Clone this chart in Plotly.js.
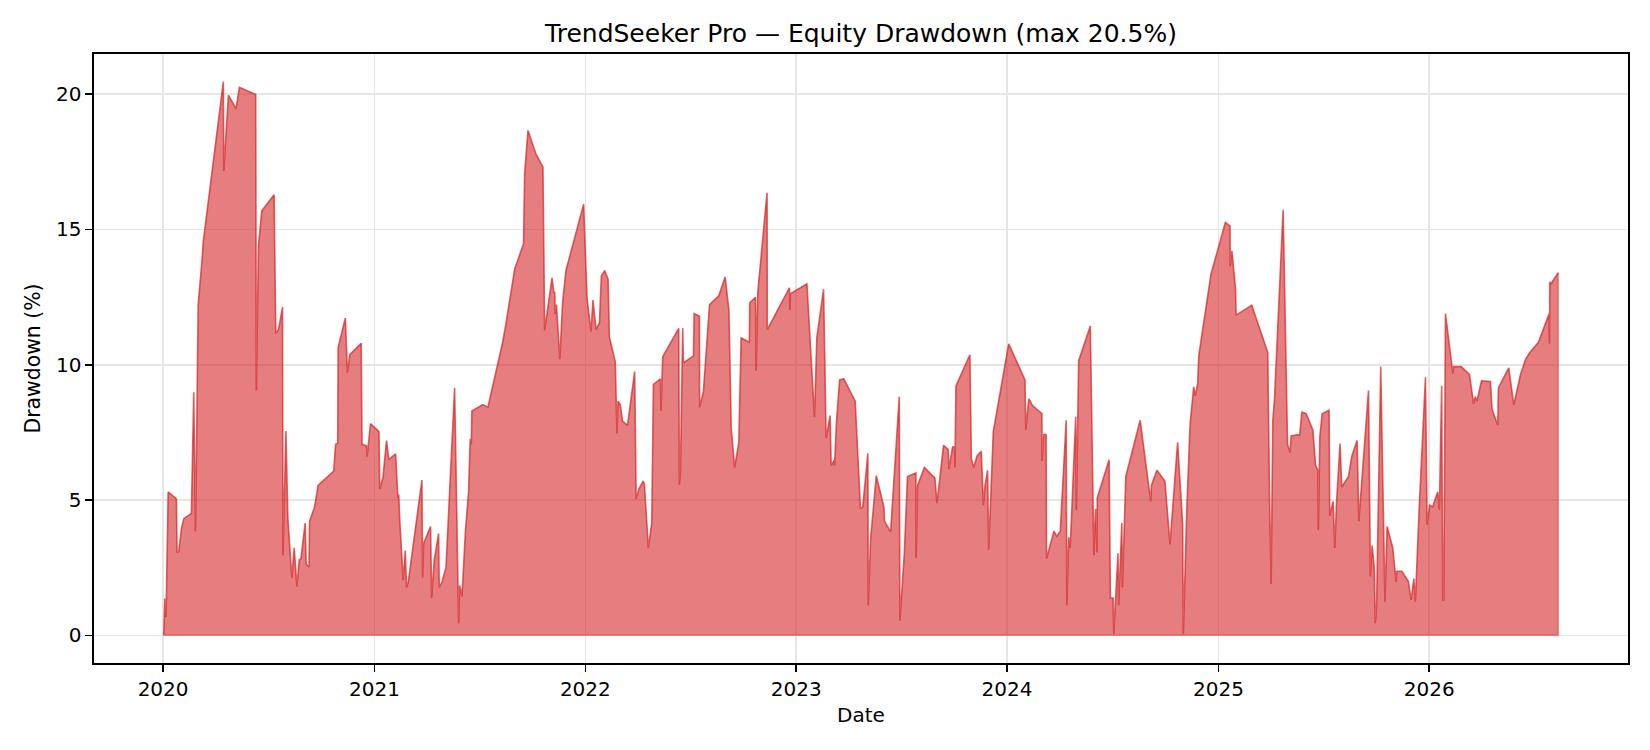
<!DOCTYPE html>
<html><head><meta charset="utf-8">
<script src="https://cdn.plot.ly/plotly-3.0.1.min.js"></script>
<style>html,body{margin:0;padding:0;background:#fff}#chart{width:1650px;height:750px}</style>
</head><body><div id="chart"></div>
<script>
const decimalYear = [
2020.003,2020.008,2020.014,2020.024,2020.063,2020.066,2020.074,2020.087,2020.098,2020.134,2020.145,2020.153,2020.157,2020.166,2020.185,2020.190,2020.285,2020.287,2020.309,2020.345,2020.361,2020.438,2020.441,2020.451,2020.467,2020.525,2020.533,2020.546,2020.565,2020.567,2020.581,2020.590,2020.609,2020.620,2020.633,2020.644,2020.652,2020.672,2020.677,2020.690,2020.693,2020.717,2020.733,2020.807,2020.816,2020.826,2020.828,2020.862,2020.872,2020.883,2020.937,2020.941,2020.962,2020.965,2020.981,
2021.021,2021.025,2021.040,2021.057,2021.068,2021.100,2021.111,2021.115,2021.120,2021.136,2021.146,2021.152,2021.160,2021.225,2021.228,2021.233,2021.266,2021.271,2021.283,2021.304,2021.307,2021.320,2021.339,2021.380,2021.399,2021.404,2021.415,2021.431,2021.446,2021.454,2021.459,2021.462,2021.513,2021.538,2021.581,2021.608,2021.623,2021.665,2021.707,2021.712,2021.728,2021.766,2021.799,2021.807,2021.842,2021.850,2021.855,2021.857,2021.863,2021.879,2021.892,2021.908,2021.992,
2022.008,2022.019,2022.027,2022.036,2022.051,2022.067,2022.076,2022.092,2022.108,2022.114,2022.142,2022.150,2022.155,2022.166,2022.176,2022.200,2022.234,2022.241,2022.254,2022.274,2022.280,2022.299,2022.315,2022.323,2022.356,2022.359,2022.367,2022.443,2022.446,2022.451,2022.462,2022.465,2022.513,2022.516,2022.541,2022.542,2022.560,2022.589,2022.633,2022.663,2022.681,2022.692,2022.708,2022.728,2022.739,2022.778,2022.780,2022.807,2022.810,2022.818,2022.862,2022.863,2022.886,2022.894,2022.968,2022.970,2022.973,
2023.051,2023.087,2023.098,2023.130,2023.142,2023.161,2023.166,2023.180,2023.182,2023.191,2023.206,2023.226,2023.280,2023.305,2023.316,2023.340,2023.342,2023.353,2023.380,2023.416,2023.419,2023.448,2023.489,2023.492,2023.513,2023.528,2023.568,2023.569,2023.576,2023.608,2023.658,2023.668,2023.699,2023.721,2023.725,2023.742,2023.751,2023.753,2023.758,2023.824,2023.831,2023.842,2023.858,2023.878,2023.888,2023.896,2023.908,2023.913,2023.935,
2024.008,2024.085,2024.089,2024.103,2024.122,2024.165,2024.166,2024.174,2024.185,2024.187,2024.222,2024.236,2024.252,2024.280,2024.283,2024.292,2024.299,2024.325,2024.328,2024.339,2024.394,2024.411,2024.419,2024.426,2024.427,2024.483,2024.489,2024.502,2024.505,2024.525,2024.528,2024.543,2024.546,2024.562,2024.630,2024.672,2024.680,2024.683,2024.709,2024.747,2024.771,2024.807,2024.831,2024.834,2024.850,2024.866,2024.883,2024.891,2024.902,2024.907,2024.965,
2025.033,2025.055,2025.056,2025.064,2025.081,2025.084,2025.158,2025.234,2025.242,2025.250,2025.258,2025.266,2025.307,2025.328,2025.340,2025.345,2025.377,2025.385,2025.396,2025.416,2025.448,2025.461,2025.472,2025.474,2025.481,2025.492,2025.525,2025.528,2025.544,2025.552,2025.560,2025.577,2025.585,2025.617,2025.633,2025.658,2025.666,2025.712,2025.721,2025.729,2025.739,2025.744,2025.750,2025.770,2025.790,2025.800,2025.827,2025.843,2025.846,2025.870,2025.901,2025.914,2025.927,2025.934,2025.953,2025.982,2025.990,
2026.002,2026.016,2026.040,2026.048,2026.059,2026.064,2026.069,2026.077,2026.112,2026.116,2026.151,2026.191,2026.210,2026.218,2026.226,2026.248,2026.290,2026.298,2026.325,2026.328,2026.377,2026.401,2026.433,2026.457,2026.476,2026.518,2026.568,2026.570,2026.572,2026.578,2026.612
];
const drawdownPct = [
0,1.36,0.68,5.3,5.04,3.06,3.1,3.96,4.31,4.51,8.98,3.85,6.07,12.22,13.94,14.54,20.46,17.16,19.96,19.46,20.25,19.99,9.05,14.4,15.69,16.28,11.16,11.3,12.13,2.96,7.55,4.35,2.13,3.23,1.81,2.79,2.83,4.15,2.63,2.53,4.22,4.75,5.54,6.07,7.06,7.1,10.63,11.73,9.71,10.37,10.79,7.06,7.0,6.6,7.82,
7.53,5.41,5.83,7.2,6.49,6.71,5.08,5.2,4.22,2.04,3.13,1.77,1.97,5.74,2.13,3.4,4.02,1.38,2.76,3.76,1.77,1.97,2.5,9.14,0.45,1.84,1.44,3.82,5.28,7.26,7.06,8.29,8.52,8.43,9.91,10.83,11.49,13.54,14.47,17.05,18.66,17.78,17.31,11.27,13.21,12.69,12.66,11.87,12.22,10.2,12.29,13.48,15.93,
12.49,11.73,11.23,12.39,11.3,11.56,13.28,13.48,13.15,11.03,10.11,7.46,8.65,8.52,7.92,7.76,9.75,5.04,5.41,5.7,5.6,3.23,4.15,9.27,9.48,8.29,10.3,11.34,5.57,6.07,11.36,10.07,10.33,11.89,11.79,8.43,9.0,12.22,12.55,13.24,12.02,7.66,6.2,7.13,10.99,10.83,12.29,12.49,9.78,12.69,16.36,11.3,11.63,11.73,12.84,12.02,12.62,
12.99,8.06,10.99,12.79,7.29,8.12,6.27,6.47,6.27,7.86,9.44,9.48,8.65,4.68,4.75,6.73,1.11,3.56,5.9,4.75,4.22,3.82,8.82,0.54,3.03,5.87,6.0,2.87,5.54,6.2,5.81,4.88,7.02,6.87,6.14,6.97,6.95,6.2,9.22,10.37,6.53,6.2,6.63,6.8,4.81,5.54,6.1,3.16,7.53,
10.77,9.44,7.59,8.74,8.48,8.19,6.44,7.42,7.42,2.83,3.85,3.66,3.85,7.95,1.11,3.62,3.23,8.08,4.62,10.15,11.43,2.96,4.68,3.06,5.08,6.49,1.38,1.38,0.05,3.03,1.11,4.15,1.77,5.87,7.95,5.41,4.95,5.54,6.1,5.7,3.36,7.13,4.09,0.05,4.55,7.79,9.18,8.85,9.31,10.33,13.35,
15.26,15.13,13.64,14.21,12.82,11.83,12.2,10.46,5.41,1.9,7.95,8.72,15.73,7.06,6.76,7.37,7.42,7.37,8.25,8.19,7.59,6.27,6.1,3.89,7.33,8.19,8.32,4.42,4.95,3.23,4.88,7.09,5.48,5.87,6.63,7.2,4.22,9.05,2.17,3.32,2.53,0.45,1.04,9.93,1.24,4.02,3.23,1.97,2.37,2.37,2.0,1.31,2.1,1.24,4.81,9.54,4.09,
4.81,4.75,5.3,4.64,9.22,1.31,1.31,11.89,9.67,9.93,9.93,9.64,8.56,8.82,8.65,9.4,9.38,8.35,7.76,9.14,9.88,8.52,9.64,10.2,10.44,10.83,11.87,10.78,13.06,13.0,13.4
];
const xTickYears = ['2020','2021','2022','2023','2024','2025','2026'];
const yTickValues = [0,5,10,15,20];
const chartTitle = 'TrendSeeker Pro — Equity Drawdown (max 20.5%)';

function toMs(dy){ const y=Math.floor(dy); const s=Date.UTC(y,0,1), e=Date.UTC(y+1,0,1); return s+(dy-y)*(e-s); }
function iso(ms){ return new Date(ms).toISOString(); }
const xDates = decimalYear.map(d=>iso(toMs(d)));
const xMin = toMs(decimalYear[0]), xMax = toMs(decimalYear[decimalYear.length-1]);
const xPad = (xMax-xMin)*0.05;
const yMax = Math.max(...drawdownPct), yMin = Math.min(0, ...drawdownPct);
const yPad = (yMax-yMin)*0.05;
const lastX = xDates[xDates.length-1], firstX = xDates[0], lastY = drawdownPct[drawdownPct.length-1];

const font = 'DejaVu Sans, sans-serif';
const traces = [
 {x:xDates, y:drawdownPct, type:'scatter', mode:'lines', fill:'tozeroy',
  fillcolor:'rgba(214,39,40,0.6)', line:{color:'rgba(214,39,40,0.72)', width:1.6}, hoverinfo:'skip'},
 {x:[lastX,lastX,firstX], y:[lastY,0,0], type:'scatter', mode:'lines',
  line:{color:'rgba(214,39,40,0.45)', width:1.4}, hoverinfo:'skip'}
];
const axisCommon = {showline:true, mirror:true, linecolor:'#000', linewidth:1.6,
  ticks:'outside', ticklen:7, tickwidth:1.6, tickcolor:'#000',
  showgrid:true, gridcolor:'#e6e6e6', gridwidth:1.6, zeroline:false,
  tickfont:{family:font, size:20, color:'#000'}};
const layout = {
  width:1650, height:750, paper_bgcolor:'#fff', plot_bgcolor:'#fff', showlegend:false,
  margin:{l:94, r:22, t:54, b:87},
  title:{text:chartTitle, x:0.5, xref:'paper', xanchor:'center', y:1-33.7/750, yref:'container', yanchor:'middle',
    font:{family:font, size:25, color:'#000'}},
  xaxis:Object.assign({}, axisCommon, {type:'date', range:[iso(xMin-xPad), iso(xMax+xPad)],
    tickvals:xTickYears.map(y=>y+'-01-01'), ticktext:xTickYears,
    title:{text:'Date', font:{family:font, size:20, color:'#000'}, standoff:8}}),
  yaxis:Object.assign({}, axisCommon, {range:[yMin-yPad, yMax+yPad], tickvals:yTickValues,
    ticktext:yTickValues.map(String),
    title:{text:'Drawdown (%)', font:{family:font, size:20.4, color:'#000'}, standoff:10}})
};
Plotly.newPlot('chart', traces, layout, {displayModeBar:false, staticPlot:true});
</script></body></html>
